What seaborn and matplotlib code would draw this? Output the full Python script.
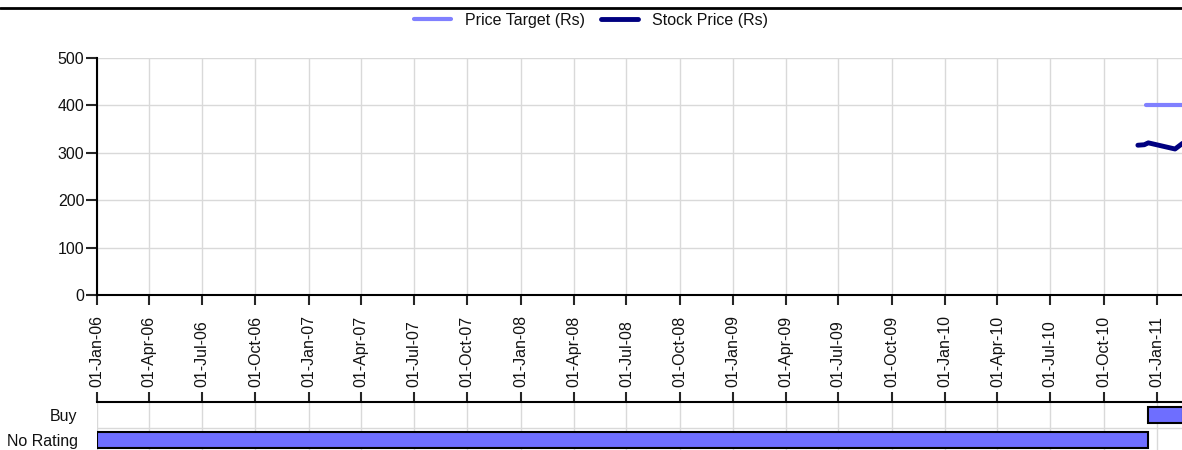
import numpy as np
import pandas as pd
import matplotlib.pyplot as plt
import matplotlib.dates as mdates
from matplotlib.lines import Line2D
import seaborn as sns

# price history (Rs)
stock_dates = ['2010-11-29', '2010-12-10', '2010-12-17', '2011-02-01', '2011-02-14']
stock_price = [316, 317, 321, 308, 320]
target_dates = ['2010-12-13', '2011-02-14']
target_price = [400, 400]

# rating history
ratings = ['Buy', 'No Rating']
rating_start = ['2010-12-16', '2006-01-01']
rating_end = ['2011-02-14', '2010-12-16']

tick_dates = pd.date_range('2006-01-01', '2011-01-01', freq='QS')
x_min, x_max = pd.Timestamp('2006-01-01'), pd.Timestamp('2011-02-13')

sns.set_style('white')
plt.rcParams['font.family'] = ['Liberation Sans', 'DejaVu Sans']
plt.rcParams['text.color'] = '#111111'
fs = 11.5

W, H = 1182, 450
fig = plt.figure(figsize=(W / 100, H / 100), dpi=100)
ax = fig.add_axes([97 / W, 1 - 295 / H, 1 - 97 / W, (295 - 58) / H])
ax2 = fig.add_axes([97 / W, 0, 1 - 97 / W, 48 / H])

grid_c = '#d9d9d9'

# main price panel
sns.lineplot(x=pd.to_datetime(target_dates), y=target_price, ax=ax,
             color='#8080ff', lw=3, label='Price Target (Rs)')
sns.lineplot(x=pd.to_datetime(stock_dates), y=stock_price, ax=ax,
             color='#000080', lw=3.5, label='Stock Price (Rs)')
handles, labels = ax.get_legend_handles_labels()
ax.get_legend().remove()

ax.set_xlim(x_min, x_max)
ax.set_ylim(0, 500)
ax.set_yticks([0, 100, 200, 300, 400, 500])
ax.set_xticks(tick_dates)
ax.tick_params(axis='x', direction='out', length=7, width=1.5, labelbottom=False, bottom=True)
ax.tick_params(axis='y', direction='out', length=8, width=1.5, pad=1, labelsize=fs,
               left=True, labelcolor='#111111')
ax.grid(True, color=grid_c, lw=1)
for s in ['top', 'right']:
    ax.spines[s].set_visible(False)
for s in ['left', 'bottom']:
    ax.spines[s].set_color('black')
    ax.spines[s].set_linewidth(1.5)
ax.set_xlabel('')
ax.set_ylabel('')

# rating panel
starts = mdates.date2num(pd.to_datetime(rating_start))
ends = mdates.date2num(pd.to_datetime(rating_end))
ypos = [1, 0]
ax2.barh(ypos, ends - starts, left=starts, height=0.64,
         color='#6e6eff', edgecolor='black', lw=1.5, zorder=3)
ax2.set_xlim(x_min, x_max)
ax2.set_ylim(-0.4, 1.52)
ax2.set_yticks(ypos)
ax2.set_yticklabels(ratings)
ax2.set_yticks([0.5], minor=True)
ax2.set_xticks(tick_dates)
ax2.xaxis.set_major_formatter(mdates.DateFormatter('%d-%b-%y'))
ax2.xaxis.tick_top()
ax2.tick_params(axis='x', direction='out', length=7, width=1.5, pad=4,
                labelsize=fs, rotation=90, top=True, labeltop=True, labelbottom=False,
                labelcolor='#111111')
ax2.tick_params(axis='y', which='both', length=0, pad=14, labelsize=fs, labelcolor='#111111')
ax2.grid(True, axis='x', color=grid_c, lw=1, zorder=0)
ax2.grid(True, axis='y', which='minor', color=grid_c, lw=1, zorder=0)
for s in ['left', 'right', 'bottom']:
    ax2.spines[s].set_visible(False)
ax2.spines['top'].set_color('black')
ax2.spines['top'].set_linewidth(1.5)

fig.legend(handles, labels, loc='center', bbox_to_anchor=(0.5, 1 - 20 / H), ncol=2,
           frameon=False, fontsize=fs, handlelength=2.3, handletextpad=0.9,
           columnspacing=1.0)
fig.add_artist(Line2D([0, 1], [1 - 8 / H, 1 - 8 / H], transform=fig.transFigure,
                      color='black', lw=2))

fig.savefig('out.png', dpi=100)
